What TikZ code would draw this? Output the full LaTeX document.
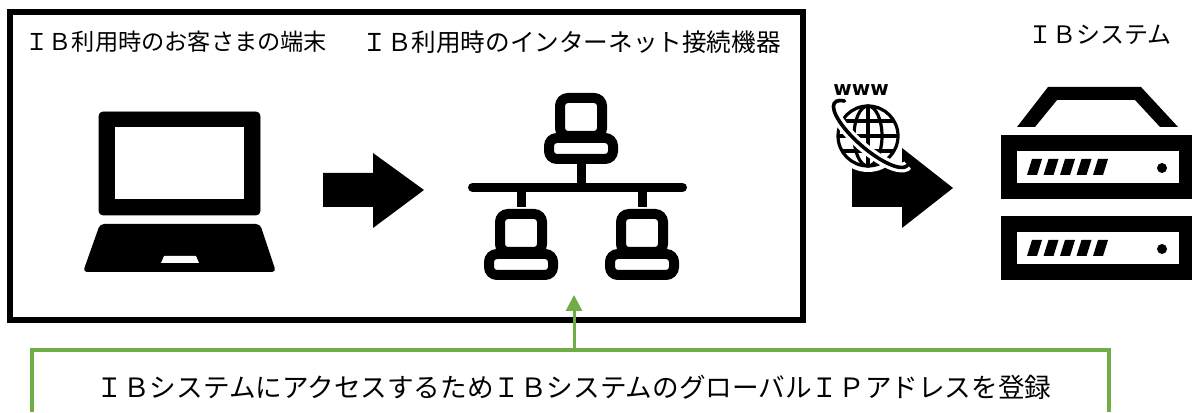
\documentclass[tikz,border=0pt]{standalone}
\usepackage{fontspec}
\newfontfamily\jpfont{Noto Sans CJK JP}
\newfontfamily\wwwfont{DejaVu Sans}
\usetikzlibrary{arrows.meta}
\definecolor{regreen}{HTML}{70AD47}
\tikzset{txt/.style = {font=\jpfont\fontsize{12pt}{14pt}\selectfont, inner sep = 0}}
\tikzset{pc/.pic = {
        \draw [line width=5pt, rounded corners=4pt] (-21,-5) rectangle (21,-43);
        \draw [line width=5pt, rounded corners=4pt] (-32,-45) rectangle (32,-66);
    }}
\tikzset{srvunit/.pic = {
        \fill (0,0) rectangle (191,64);
        \fill [white] (16,16) rectangle (178,48);
        \foreach \i in {0,...,4}
            \fill ({26+16.5*\i},24) -- ++(10,0) -- ++(5,16) -- ++(-10,0) -- cycle;
        \fill (161,31) circle [radius=5];
    }}

\begin{document}
\begin{tikzpicture}[x=0.5pt, y=0.5pt]
        \useasboundingbox (0,0) rectangle (1192,412);
        \draw [line width=3pt] (10,92) rectangle (803,400);
        \node[txt, anchor=west, font=\jpfont\fontsize{11.6pt}{14pt}\selectfont] (termlabel) at (25,370) {ＩＢ利用時のお客さまの端末};
        \node[txt, anchor=west, font=\jpfont\fontsize{12.3pt}{14pt}\selectfont] (netlabel) at (362,370) {ＩＢ利用時のインターネット接続機器};
        \node[txt] (syslabel) at (1100,377) {ＩＢシステム};
        \filldraw [rounded corners=2pt] (99,197) rectangle (260,300);
        \fill [white] (115,213) rectangle (244,285);
        \fill [rounded corners=2pt] (100,188) -- (260,188) -- (276,140) -- (83,140) -- cycle;
        \fill [white] (164,156) -- (196,156) -- (199,149) -- (161,149) -- cycle;
        \fill (323,239) -- (373,239) -- (373,259) -- (424,222) -- (373,184) -- (373,205) -- (323,205) -- cycle;
        \pic (pctop) at (581,319) {pc};
        \pic (pcleft) at (521,203) {pc};
        \pic (pcright) at (642,203) {pc};
        \coordinate (busleft) at (472.5,224.5);
        \coordinate (busright) at (682.5,224.5);
        \draw [line width=4.5pt, line cap=round] (busleft) -- (busright);
        \draw [line width=4.5pt] (581,250) -- (581,224.5);
        \draw [line width=4.5pt] (521,224.5) -- (521,205);
        \draw [line width=4.5pt] (642,224.5) -- (642,205);
        \fill (852,245) -- (902,245) -- (902,264) -- (953,224) -- (902,184) -- (902,205) -- (852,205) -- cycle;
        \filldraw [white, line width=6pt] (868,276) circle [radius=30];
        \draw [line width=1.6pt] (868,276) circle [radius=30];
        \draw [line width=1.6pt] (868,276) ellipse [x radius=14, y radius=30];
        \draw [line width=1.6pt] (868,246) -- (868,306);
        \draw [line width=1.6pt] (838,276) -- (898,276);
        \draw [line width=1.6pt] (842,291) -- (894,291);
        \draw [line width=1.6pt] (842,261) -- (894,261);
        \begin{scope}[shift={(871,278)}, rotate=-41]
            \draw [white, line width=5pt] (150:48 and 15) arc [start angle=150, end angle=362, x radius=48, y radius=15];
            \draw [line width=1.8pt, line cap=round] (150:48 and 15) arc [start angle=150, end angle=362, x radius=48, y radius=15];
        \end{scope}
        \node[font=\wwwfont\bfseries\fontsize{10pt}{12pt}\selectfont, inner sep=0] (wwwlabel) at (861,322) {www};
        \fill (1017,285) -- (1048,325) -- (1141,325) -- (1178,285) -- (1160,285) -- (1135,312) -- (1057,312) -- (1035,285) -- cycle;
        \pic (srvtop) at (1001,213) {srvunit};
        \pic (srvbottom) at (1001,132) {srvunit};
        \draw [regreen, line width=2pt] (32,0) -- (32,62) -- (1109,62) -- (1109,0);
        \node[font=\jpfont\fontsize{13.3pt}{16pt}\selectfont, inner sep=0] (reglabel) at (574,25) {ＩＢシステムにアクセスするためＩＢシステムのグローバルＩＰアドレスを登録};
        \coordinate (regfoot) at (574,62);
        \coordinate (regtip) at (574,117);
        \draw [regreen, line width=1.5pt, -{Triangle[length=8pt,width=8pt]}] (regfoot) -- (regtip);
    \end{tikzpicture}
\end{document}
